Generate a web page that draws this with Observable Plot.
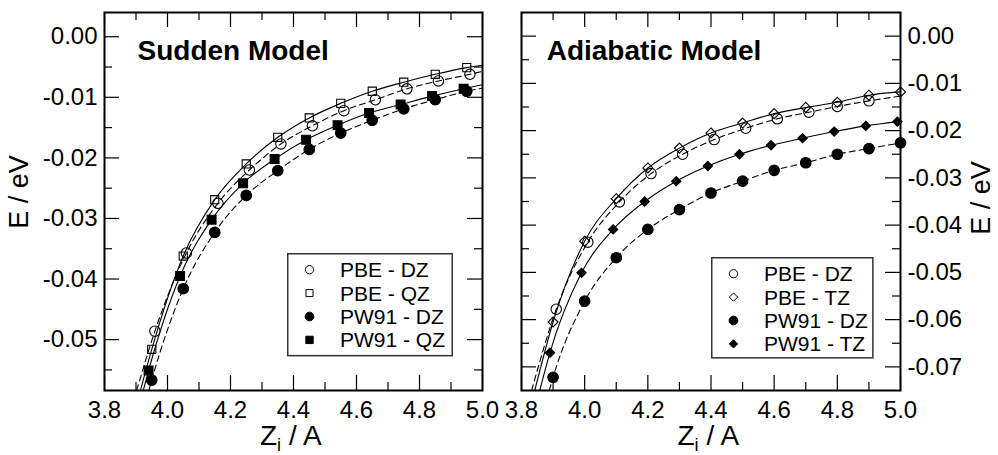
<!DOCTYPE html>
<html>
<head>
<meta charset="utf-8">
<script src="https://cdn.jsdelivr.net/npm/d3@7"></script>
<script src="https://cdn.jsdelivr.net/npm/@observablehq/plot@0.6"></script>
<style>
  body { margin: 0; background: #fff; }
  #fig { position: relative; width: 998px; height: 455px; overflow: hidden; background: #fff; }
  #fig svg { position: absolute; top: 0; overflow: visible; }
</style>
</head>
<body>
<div id="fig"></div>
<script>
// ---- shared axis values ----
const xMajor = [3.8, 4.0, 4.2, 4.4, 4.6, 4.8, 5.0];
const xMinor = [3.9, 4.1, 4.3, 4.5, 4.7, 4.9];

// ---- Sudden model: E (eV) versus Z_i (A) ----
const suddenLabels = ["PBE - DZ", "PBE - QZ", "PW91 - DZ", "PW91 - QZ"];
const suddenPbeDzZ = [3.96, 4.06, 4.16, 4.26, 4.36, 4.46, 4.56, 4.66, 4.76, 4.86, 4.96];
const suddenPbeDzE = [-0.0486, -0.0357, -0.0275, -0.0220, -0.0177, -0.0147, -0.0122, -0.0104, -0.0086, -0.0073, -0.0062];
const suddenPbeQzZ = [3.95, 4.05, 4.15, 4.25, 4.35, 4.45, 4.55, 4.65, 4.75, 4.85, 4.95];
const suddenPbeQzE = [-0.0516, -0.0362, -0.0269, -0.0210, -0.0166, -0.0134, -0.0110, -0.0090, -0.0075, -0.0062, -0.0051];
const suddenPw91DzZ = [3.95, 4.05, 4.15, 4.25, 4.35, 4.45, 4.55, 4.65, 4.75, 4.85, 4.95];
const suddenPw91DzE = [-0.0567, -0.0416, -0.0323, -0.0262, -0.0221, -0.0186, -0.0159, -0.0138, -0.0119, -0.0104, -0.0090];
const suddenPw91QzZ = [3.94, 4.04, 4.14, 4.24, 4.34, 4.44, 4.54, 4.64, 4.74, 4.84, 4.94];
const suddenPw91QzE = [-0.0551, -0.0395, -0.0302, -0.0242, -0.0202, -0.0170, -0.0146, -0.0126, -0.0112, -0.0098, -0.0086];
// fitted curves: Z where each leaves the bottom of the frame, E where each reaches Z = 5.0
const suddenFitStartZ = [3.902, 3.914, 3.941, 3.923];
const suddenFitEndE = [-0.0057, -0.0047, -0.0085, -0.0079];
const suddenYDomain = [-0.0584, 0.004];
const suddenYMajor = [0.00, -0.01, -0.02, -0.03, -0.04, -0.05];
const suddenYMinor = [-0.005, -0.015, -0.025, -0.035, -0.045, -0.055];

// ---- Adiabatic model ----
const adiaLabels = ["PBE - DZ", "PBE - TZ", "PW91 - DZ", "PW91 - TZ"];
const adiaPbeDzZ = [3.91, 4.01, 4.11, 4.21, 4.31, 4.41, 4.51, 4.61, 4.71, 4.80, 4.90];
const adiaPbeDzE = [-0.0578, -0.0436, -0.0351, -0.0291, -0.0250, -0.0219, -0.0195, -0.0175, -0.0161, -0.0149, -0.0137];
const adiaPbeTzZ = [3.90, 4.00, 4.10, 4.20, 4.30, 4.40, 4.50, 4.60, 4.70, 4.80, 4.90, 5.00];
const adiaPbeTzE = [-0.0605, -0.0434, -0.0344, -0.0279, -0.0237, -0.0205, -0.0184, -0.0164, -0.0151, -0.0140, -0.0125, -0.0118];
const adiaPw91DzZ = [3.90, 4.00, 4.10, 4.20, 4.30, 4.40, 4.50, 4.60, 4.70, 4.80, 4.90, 5.00];
const adiaPw91DzE = [-0.0722, -0.0561, -0.0469, -0.0409, -0.0367, -0.0332, -0.0307, -0.0284, -0.0268, -0.0250, -0.0238, -0.0226];
const adiaPw91TzZ = [3.89, 3.99, 4.09, 4.19, 4.29, 4.39, 4.49, 4.59, 4.69, 4.79, 4.89, 4.99];
const adiaPw91TzE = [-0.0670, -0.0501, -0.0409, -0.0350, -0.0307, -0.0275, -0.0250, -0.0231, -0.0216, -0.0202, -0.0190, -0.0181];
const adiaFitStartZ = [3.832, 3.842, 3.888, 3.858];
const adiaFitEndE = [-0.0127, null, null, -0.0180];
const adiaYDomain = [-0.075, 0.005];
const adiaYMajor = [0.00, -0.01, -0.02, -0.03, -0.04, -0.05, -0.06, -0.07];
const adiaYMinor = [-0.005, -0.015, -0.025, -0.035, -0.045, -0.055, -0.065];

// ---- marker / line styles per series ----
const FONT = '"Liberation Sans", Arial, Helvetica, sans-serif';
const seriesStyle = {
  "PBE - DZ":  {symbol: "circle",   r: 5.2, fill: "none", dashed: true,  legendSym: d3.symbolCircle,   legendArea: 54},
  "PBE - QZ":  {symbol: "square",   r: 4.6, fill: "none", dashed: false, legendSym: d3.symbolSquare,   legendArea: 49},
  "PBE - TZ":  {symbol: "diamond2", r: 4.5, fill: "none", dashed: false, legendSym: d3.symbolDiamond2, legendArea: 44},
  "PW91 - DZ": {symbol: "circle",   r: 5.3, fill: "#000", dashed: true,  legendSym: d3.symbolCircle,   legendArea: 60},
  "PW91 - QZ": {symbol: "square",   r: 5.0, fill: "#000", dashed: false, legendSym: d3.symbolSquare,   legendArea: 54},
  "PW91 - TZ": {symbol: "diamond2", r: 4.2, fill: "#000", dashed: false, legendSym: d3.symbolDiamond2, legendArea: 44}
};

const fig = document.getElementById("fig");
const W = 500, H = 455, MT = 12, MB = 65;

function drawPanel(cfg) {
  const FW = W - cfg.marginLeft - cfg.marginRight;
  const FH = H - MT - MB;
  const MAJ = 15, MIN = 8;
  const tickStyle = {stroke: "#000", strokeWidth: 1.2};
  const marks = [];

  // inward ticks on all four sides
  for (const [vals, len] of [[xMajor, MAJ], [xMinor, MIN]]) {
    marks.push(Plot.tickX(vals, {x: d => d, insetTop: FH - len, ...tickStyle}));
    marks.push(Plot.tickX(vals, {x: d => d, insetBottom: FH - len, ...tickStyle}));
  }
  for (const [vals, len] of [[cfg.yMajor, MAJ], [cfg.yMinor, MIN]]) {
    marks.push(Plot.tickY(vals, {y: d => d, insetRight: FW - len, ...tickStyle}));
    marks.push(Plot.tickY(vals, {y: d => d, insetLeft: FW - len, ...tickStyle}));
  }

  // fitted curves, then the computed points
  cfg.series.forEach((s, i) => {
    const st = seriesStyle[s.label];
    const pts = s.Z.map((z, j) => ({Z: z, E: s.E[j]}));
    const curve = [{Z: cfg.fitStartZ[i], E: cfg.yDomain[0]}, ...pts];
    if (cfg.fitEndE[i] != null) curve.push({Z: 5.0, E: cfg.fitEndE[i]});
    marks.push(Plot.line(curve, {
      x: "Z", y: "E", curve: "monotone-x", stroke: "#000", strokeWidth: 1.1,
      strokeDasharray: st.dashed ? "6,4" : null, clip: true
    }));
  });
  cfg.series.forEach(s => {
    const st = seriesStyle[s.label];
    const pts = s.Z.map((z, j) => ({Z: z, E: s.E[j]}));
    marks.push(Plot.dot(pts, {
      x: "Z", y: "E", symbol: st.symbol, r: st.r, fill: st.fill,
      stroke: "#000", strokeWidth: 1.1
    }));
  });

  marks.push(Plot.frame({stroke: "#000", strokeWidth: 2}));
  marks.push(Plot.axisX(xMajor, {
    tickSize: 0, tickPadding: 10, fontSize: 24, label: null,
    tickFormat: d => d.toFixed(1)
  }));
  marks.push(Plot.axisY(cfg.yMajor, {
    anchor: cfg.yAnchor, tickSize: 0, tickPadding: 7, fontSize: 24, label: null,
    tickFormat: d => (Math.abs(d) < 1e-9 ? 0 : d).toFixed(2)
  }));

  const svg = Plot.plot({
    width: W, height: H,
    marginLeft: cfg.marginLeft, marginRight: cfg.marginRight,
    marginTop: MT, marginBottom: MB,
    x: {domain: [3.8, 5.0]},
    y: {domain: cfg.yDomain},
    style: {fontFamily: FONT, fontSize: "24px", color: "#000", background: "transparent", overflow: "visible"},
    marks
  });
  svg.style.left = cfg.left + "px";
  fig.appendChild(svg);

  const s = d3.select(svg);
  // panel title
  s.append("text")
    .attr("x", cfg.titleX).attr("y", 60).attr("text-anchor", "start")
    .attr("font-family", FONT).attr("font-size", 28).attr("font-weight", "bold")
    .attr("fill", "#000").text(cfg.title);
  // x label: Z with subscript i
  const xl = s.append("text")
    .attr("x", cfg.xLabelX).attr("y", 445).attr("text-anchor", "start")
    .attr("font-family", FONT).attr("font-size", 28).attr("fill", "#000");
  xl.append("tspan").text("Z");
  xl.append("tspan").attr("font-size", 18).attr("dy", 5.5).text("i");
  xl.append("tspan").attr("dy", -5.5).text(" / A");
  // y label
  s.append("text")
    .attr("transform", `translate(${cfg.yLabelX},${cfg.yLabelY}) rotate(-90)`)
    .attr("text-anchor", "middle")
    .attr("font-family", FONT).attr("font-size", 27).attr("fill", "#000")
    .text("E / eV");
}

function drawLegend(left, top, w, h, labels) {
  const s = d3.select(fig).append("svg")
    .style("left", left + "px").style("top", top + "px")
    .attr("width", w).attr("height", h);
  s.append("rect")
    .attr("x", 0.75).attr("y", 0.75).attr("width", w - 1.5).attr("height", h - 1.5)
    .attr("fill", "#fff").attr("stroke", "#333").attr("stroke-width", 1.5);
  labels.forEach((label, i) => {
    const st = seriesStyle[label];
    const cy = 16.7 + 23.4 * i;
    s.append("path")
      .attr("transform", `translate(22.5,${cy})`)
      .attr("d", d3.symbol(st.legendSym, st.legendArea)())
      .attr("fill", st.fill === "none" ? "#fff" : "#000")
      .attr("stroke", "#000").attr("stroke-width", 1);
    s.append("text")
      .attr("x", 53).attr("y", cy + 7.4).attr("text-anchor", "start")
      .attr("font-family", FONT).attr("font-size", 21).attr("fill", "#000")
      .text(label);
  });
}

drawPanel({
  left: 0, marginLeft: 104, marginRight: 18,
  yDomain: suddenYDomain, yMajor: suddenYMajor, yMinor: suddenYMinor, yAnchor: "left",
  series: [
    {label: suddenLabels[0], Z: suddenPbeDzZ, E: suddenPbeDzE},
    {label: suddenLabels[1], Z: suddenPbeQzZ, E: suddenPbeQzE},
    {label: suddenLabels[2], Z: suddenPw91DzZ, E: suddenPw91DzE},
    {label: suddenLabels[3], Z: suddenPw91QzZ, E: suddenPw91QzE}
  ],
  fitStartZ: suddenFitStartZ, fitEndE: suddenFitEndE,
  title: "Sudden Model", titleX: 137.5,
  xLabelX: 260, yLabelX: 28, yLabelY: 192
});

drawPanel({
  left: 498, marginLeft: 23, marginRight: 98,
  yDomain: adiaYDomain, yMajor: adiaYMajor, yMinor: adiaYMinor, yAnchor: "right",
  series: [
    {label: adiaLabels[0], Z: adiaPbeDzZ, E: adiaPbeDzE},
    {label: adiaLabels[1], Z: adiaPbeTzZ, E: adiaPbeTzE},
    {label: adiaLabels[2], Z: adiaPw91DzZ, E: adiaPw91DzE},
    {label: adiaLabels[3], Z: adiaPw91TzZ, E: adiaPw91TzE}
  ],
  fitStartZ: adiaFitStartZ, fitEndE: adiaFitEndE,
  title: "Adiabatic Model", titleX: 48.7,
  xLabelX: 179.5, yLabelX: 492, yLabelY: 198
});

drawLegend(286.7, 253.3, 166, 103.4, suddenLabels);
drawLegend(710.7, 256.7, 162.6, 101.6, adiaLabels);
</script>
</body>
</html>
